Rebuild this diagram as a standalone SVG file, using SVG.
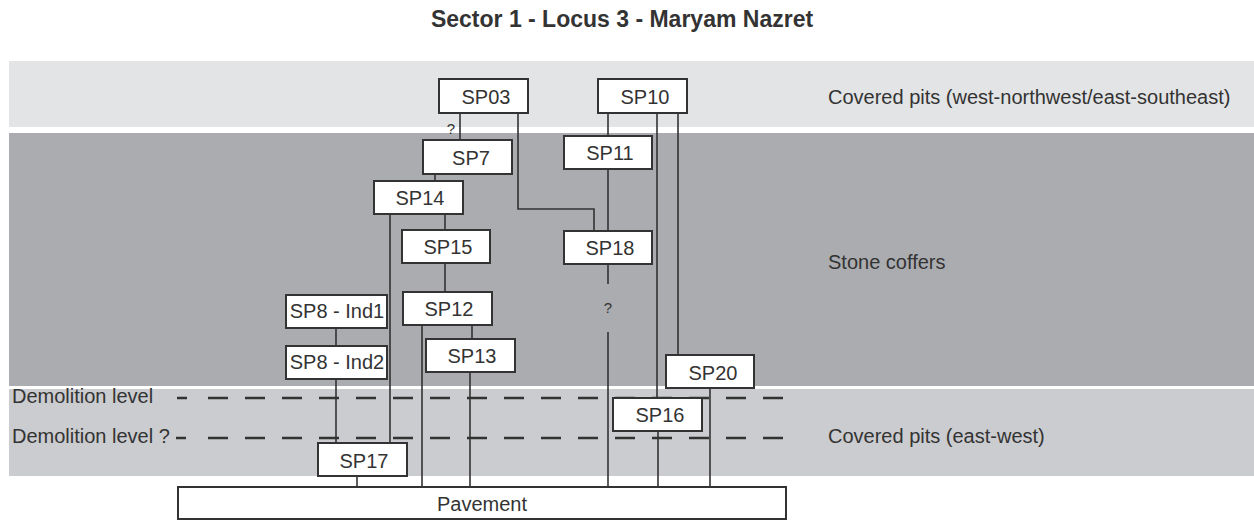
<svg xmlns="http://www.w3.org/2000/svg" width="1254" height="520" viewBox="0 0 1254 520">
<style>
text{font-family:"Liberation Sans",Arial,sans-serif;fill:#333;}
.t{font-size:20px;text-anchor:middle;}
.lbl{font-size:20px;}
.q{font-size:15px;text-anchor:middle;}
.box{fill:#fff;stroke:#333;stroke-width:2;}
.c{fill:none;stroke:#333;stroke-width:1.6;}
.d{fill:none;stroke:#333;stroke-width:2.6;}
</style>
<rect width="1254" height="520" fill="#fff"/>
<g id="bands">
<rect x="9" y="61" width="1245" height="66" fill="#e3e4e6"/>
<rect x="9" y="133" width="1245" height="253" fill="#abacb0"/>
<rect x="9" y="389" width="1245" height="87" fill="#cbcccf"/>
</g>
<text x="622" y="27" font-size="23" font-weight="bold" text-anchor="middle">Sector 1 - Locus 3 - Maryam Nazret</text>
<g id="labels">
<text class="lbl" x="828" y="104">Covered pits (west-northwest/east-southeast)</text>
<text class="lbl" x="828" y="269">Stone coffers</text>
<text class="lbl" x="828" y="443">Covered pits (east-west)</text>
<text class="lbl" x="12" y="403">Demolition level</text>
<text class="lbl" x="12" y="443">Demolition level ?</text>
</g>
<g id="levels">
<path class="d" d="M177 398 H187 M208 398 H786" stroke-dasharray="20 17"/>
<path class="d" d="M176 438 H186 M208 438 H786" stroke-dasharray="20 17"/>
</g>
<g id="connectors">
<path class="c" d="M460 113 V140"/>
<path class="c" d="M518 113 V209 H594 V231"/>
<path class="c" d="M608 113 V136"/>
<path class="c" d="M657 113 V398"/>
<path class="c" d="M678 113 V355"/>
<path class="c" d="M435 174 V181"/>
<path class="c" d="M608 169 V231"/>
<path class="c" d="M445 214 V230"/>
<path class="c" d="M390 214 V443"/>
<path class="c" d="M445 263 V292"/>
<path class="c" d="M608 264 V284"/>
<path class="c" d="M608 332 V487"/>
<path class="c" d="M336 328 V346"/>
<path class="c" d="M336 379 V443"/>
<path class="c" d="M422 325 V487"/>
<path class="c" d="M472 325 V339"/>
<path class="c" d="M470 372 V487"/>
<path class="c" d="M710 388 V487"/>
<path class="c" d="M658 431 V487"/>
<path class="c" d="M357 476 V487"/>
<text class="q" x="451" y="134">?</text>
<text class="q" x="608" y="313">?</text>
</g>
<g id="SP03"><rect class="box" x="439" y="79" width="89" height="34"/><text class="t" x="486" y="104">SP03</text></g>
<g id="SP10"><rect class="box" x="598" y="79" width="89" height="34"/><text class="t" x="645" y="104">SP10</text></g>
<g id="SP7"><rect class="box" x="423" y="140" width="89" height="34"/><text class="t" x="471" y="165">SP7</text></g>
<g id="SP11"><rect class="box" x="564" y="136" width="88" height="33"/><text class="t" x="610" y="160">SP11</text></g>
<g id="SP14"><rect class="box" x="374" y="181" width="89" height="33"/><text class="t" x="420" y="205">SP14</text></g>
<g id="SP15"><rect class="box" x="402" y="230" width="88" height="33"/><text class="t" x="448" y="254">SP15</text></g>
<g id="SP18"><rect class="box" x="564" y="231" width="88" height="33"/><text class="t" x="610" y="255">SP18</text></g>
<g id="SP8-Ind1"><rect class="box" x="286" y="295" width="101" height="33"/><text class="t" x="337" y="318">SP8 - Ind1</text></g>
<g id="SP8-Ind2"><rect class="box" x="286" y="346" width="101" height="33"/><text class="t" x="337" y="369">SP8 - Ind2</text></g>
<g id="SP12"><rect class="box" x="403" y="292" width="89" height="33"/><text class="t" x="449" y="316">SP12</text></g>
<g id="SP13"><rect class="box" x="426" y="339" width="89" height="33"/><text class="t" x="472" y="363">SP13</text></g>
<g id="SP20"><rect class="box" x="666" y="355" width="88" height="33"/><text class="t" x="713" y="380">SP20</text></g>
<g id="SP16"><rect class="box" x="613" y="398" width="89" height="33"/><text class="t" x="660" y="422">SP16</text></g>
<g id="SP17"><rect class="box" x="318" y="443" width="89" height="33"/><text class="t" x="364" y="468">SP17</text></g>
<g id="Pavement"><rect class="box" x="178" y="487" width="608" height="32"/><text class="t" x="482" y="511">Pavement</text></g>
</svg>
